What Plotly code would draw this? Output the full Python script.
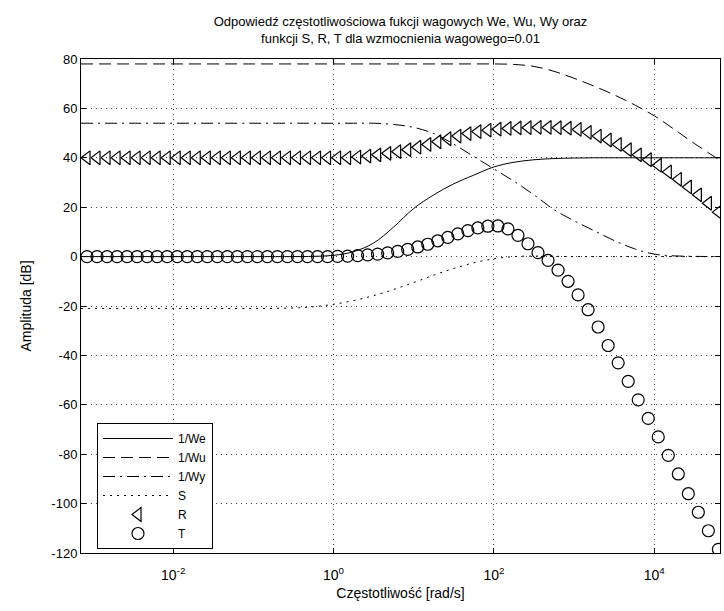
import plotly.graph_objects as go

# ---------------- data ----------------
# log10 of frequency [rad/s] for the marker series (R, T)
MARK_EXP = [-3.075, -2.95, -2.825, -2.7, -2.575, -2.45, -2.325, -2.2, -2.075, -1.95,
            -1.825, -1.7, -1.575, -1.45, -1.325, -1.2, -1.075, -0.95, -0.825, -0.7,
            -0.575, -0.45, -0.325, -0.2, -0.075, 0.05, 0.175, 0.3, 0.425, 0.55,
            0.675, 0.8, 0.925, 1.05, 1.175, 1.3, 1.425, 1.55, 1.675, 1.8,
            1.925, 2.05, 2.175, 2.3, 2.425, 2.55, 2.675, 2.8, 2.925, 3.05,
            3.175, 3.3, 3.425, 3.55, 3.675, 3.8, 3.925, 4.05, 4.175, 4.3,
            4.425, 4.55, 4.675, 4.8]

R_DB = [40] * 27 + [40.3, 40.7, 41.2, 41.8, 42.5, 43.3, 44.3, 45.4, 46.5, 47.7,
                    48.8, 49.8, 50.6, 51.2, 51.6, 51.9, 52.1, 52.2, 52.3, 52.3,
                    52.2, 52.0, 51.5, 50.3, 48.8, 47.2, 45.4, 43.3, 41.2, 39.2,
                    37.0, 34.3, 31.3, 28.2, 25.0, 21.6, 18.0]

T_DB = [0] * 25 + [0.1, 0.2, 0.4, 0.7, 1.0, 1.5, 2.1, 2.9, 3.9, 5.0,
                   6.4, 7.8, 9.2, 10.5, 11.6, 12.3, 12.4, 11.2, 8.6, 5.2,
                   1.6, -1.5, -5.5, -10, -15.5, -21.5, -28.5, -36, -43, -50.5,
                   -58, -65.5, -73, -80.5, -88, -96, -103.5, -111, -118.5]

# log10 of frequency for the line series
LINE_EXP = [-3.15, -2.0, -1.0, -0.5, -0.25, 0.0, 0.25, 0.5, 0.75, 1.0, 1.25, 1.5, 1.75,
            2.0, 2.25, 2.5, 2.75, 3.0, 3.25, 3.5, 3.75, 4.0, 4.25, 4.5, 4.82]

WE_DB = [0, 0, 0, 0, 0.1, 0.5, 2, 5.5, 12, 19.5, 25, 29.5, 33,
         36.3, 38.2, 39.2, 39.7, 39.9, 40, 40, 40, 40, 40, 40, 40]
WU_DB = [78, 78, 78, 78, 78, 78, 78, 78, 78, 78, 78, 78, 78,
         78, 77.8, 77, 75, 72.2, 69, 65.5, 61.5, 57, 51.5, 45.8, 39]
WY_DB = [54, 54, 54, 54, 54, 54, 54, 54, 53.5, 52.3, 49.8, 45.5, 40.5,
         35.5, 30.5, 25, 19, 14.5, 10.5, 6.5, 3.2, 1.0, 0.3, 0.1, 0]
S_DB = [-21, -21, -21, -20.8, -20.3, -19.3, -17.8, -15.8, -13.3, -10.5, -7.5, -4.8, -2.5,
        -0.9, 0, 0.2, 0.1, 0, 0, 0, 0, 0, 0, 0, 0]

X_TICK_EXP = [-2, 0, 2, 4]
Y_TICKS = [80, 60, 40, 20, 0, -20, -40, -60, -80, -100, -120]

TITLE = ("Odpowiedź częstotliwościowa fukcji wagowych We, Wu, Wy oraz<br>"
         "funkcji S, R, T dla wzmocnienia wagowego=0.01")

# ---------------- figure ----------------
line_f = [10 ** e for e in LINE_EXP]
mark_f = [10 ** e for e in MARK_EXP]

fig = go.Figure()
fig.add_trace(go.Scatter(x=line_f, y=WE_DB, mode="lines", name="1/We", line_shape="spline",
                         line=dict(color="black", width=1)))
fig.add_trace(go.Scatter(x=line_f, y=WU_DB, mode="lines", name="1/Wu", line_shape="spline",
                         line=dict(color="black", width=1, dash="12px,6px")))
fig.add_trace(go.Scatter(x=line_f, y=WY_DB, mode="lines", name="1/Wy", line_shape="spline",
                         line=dict(color="black", width=1, dash="12px,5px,2px,5px")))
fig.add_trace(go.Scatter(x=line_f, y=S_DB, mode="lines", name="S", line_shape="spline",
                         line=dict(color="black", width=1, dash="2px,5px")))
fig.add_trace(go.Scatter(x=mark_f, y=R_DB, mode="markers", name="R",
                         marker=dict(symbol="triangle-left-open", size=12, color="black",
                                     line=dict(width=1.2, color="black"))))
fig.add_trace(go.Scatter(x=mark_f, y=T_DB, mode="markers", name="T",
                         marker=dict(symbol="circle-open", size=12, color="black",
                                     line=dict(width=1.2, color="black"))))

font_family = "Liberation Sans, Arial, sans-serif"

fig.update_layout(
    width=724, height=611,
    margin=dict(l=81, r=4, t=59, b=58),
    paper_bgcolor="white", plot_bgcolor="white",
    font=dict(family=font_family, size=12, color="black"),
    title=dict(text=TITLE, x=0.5, xref="paper", xanchor="center",
               y=1 - 26 / 611, yref="container", yanchor="middle",
               font=dict(size=13, family=font_family, color="black")),
    showlegend=True,
    legend=dict(x=(97 - 81) / 639, y=1 - (423 - 59) / 494, xanchor="left", yanchor="top",
                bgcolor="white", bordercolor="black", borderwidth=1,
                font=dict(size=12, family=font_family), itemwidth=70,
                tracegroupgap=0, itemsizing="trace"),
)

grid_style = dict(showgrid=True, gridcolor="#444444", gridwidth=1, griddash="1px,4px")

fig.update_xaxes(
    type="log", range=[-3.15, 4.82],
    tickvals=[10 ** e for e in X_TICK_EXP],
    ticktext=["10<sup>%d</sup>" % e for e in X_TICK_EXP],
    ticks="inside", ticklen=5, tickcolor="black", ticklabelstandoff=9,
    showline=True, linecolor="black", linewidth=1, mirror="ticks",
    zeroline=False,
    title=dict(text="Częstotliwość [rad/s]", standoff=6, font=dict(size=14)),
    tickfont=dict(size=14),
    **grid_style,
)
fig.update_yaxes(
    range=[-120, 80],
    tickvals=Y_TICKS, ticktext=[str(v) for v in Y_TICKS],
    ticks="inside", ticklen=5, tickcolor="black",
    showline=True, linecolor="black", linewidth=1, mirror="ticks",
    zeroline=False,
    title=dict(text="Amplituda [dB]", standoff=16, font=dict(size=14)),
    tickfont=dict(size=13),
    **grid_style,
)

fig.write_html("out.html")
